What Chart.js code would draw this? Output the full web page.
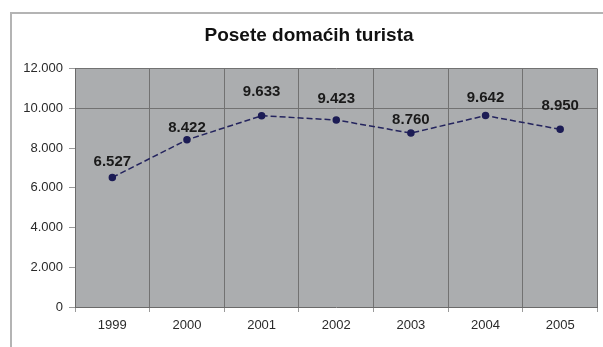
<!DOCTYPE html>
<html>
<head>
<meta charset="utf-8">
<script src="https://cdn.jsdelivr.net/npm/chart.js@4/dist/chart.umd.min.js"></script>
<style>
  html, body { margin: 0; padding: 0; background: #ffffff; }
  #wrap { position: relative; width: 603px; height: 347px; overflow: hidden; }
  #frame { position: absolute; left: 10px; top: 12px; width: 600px; height: 345px; border: 2px solid #b4b4b4; box-sizing: border-box; }
  #c { position: absolute; left: 0; top: 0; }
</style>
</head>
<body>
<div id="wrap">
  <div id="frame"></div>
  <canvas id="c" width="603" height="347"></canvas>
</div>
<script>
// ---- data ----
const chartTitle = 'Posete domaćih turista';
const years = ['1999', '2000', '2001', '2002', '2003', '2004', '2005'];
const visits = [6527, 8422, 9633, 9423, 8760, 9642, 8950];
const yMin = 0;
const yMax = 12000;
const yStep = 2000;
// ---------------------------------------

// label offsets above each point (style only)
const labelLift = [16, 12, 24, 21, 13, 18, 23];

function fmt(v) {
  return String(Math.round(v)).replace(/\B(?=(\d{3})+(?!\d))/g, '.');
}

const plotBg = {
  id: 'plotBg',
  beforeDraw(chart) {
    const a = chart.chartArea, ctx = chart.ctx;
    ctx.save();
    ctx.fillStyle = '#abadaf';
    ctx.fillRect(a.left, a.top, a.right - a.left, a.bottom - a.top);
    ctx.restore();
  }
};

const pointLabels = {
  id: 'pointLabels',
  afterDatasetsDraw(chart) {
    const ctx = chart.ctx;
    const meta = chart.getDatasetMeta(0);
    const data = chart.data.datasets[0].data;
    ctx.save();
    ctx.font = 'bold 15px "Liberation Sans", Arial, sans-serif';
    ctx.fillStyle = '#1a1a1a';
    ctx.textAlign = 'center';
    ctx.textBaseline = 'middle';
    meta.data.forEach((pt, i) => {
      ctx.fillText(fmt(data[i]), pt.x, pt.y - (labelLift[i] || 18));
    });
    ctx.restore();
  }
};

new Chart(document.getElementById('c'), {
  type: 'line',
  data: {
    labels: years,
    datasets: [{
      data: visits,
      borderColor: '#24245e',
      borderWidth: 1.5,
      borderDash: [6, 3],
      pointRadius: 3,
      pointBackgroundColor: '#1c1c55',
      pointBorderColor: '#1c1c55',
      tension: 0,
      fill: false
    }]
  },
  options: {
    responsive: false,
    animation: false,
    layout: { padding: { left: 18, right: 3, top: 0, bottom: 0 } },
    plugins: {
      legend: { display: false },
      tooltip: { enabled: false },
      title: {
        display: true,
        text: chartTitle,
        color: '#111111',
        font: { family: '"Liberation Sans", Arial, sans-serif', size: 19, weight: 'bold', lineHeight: 1.2 },
        padding: { top: 24, bottom: 22 }
      }
    },
    scales: {
      x: {
        offset: true,
        grid: {
          offset: true,
          color: '#727272',
          lineWidth: 1,
          tickLength: 5,
          tickColor: '#9a9a9a',
          drawTicks: true
        },
        border: { display: true, color: '#6a6a6a', width: 1 },
        ticks: {
          color: '#2a2a2a',
          padding: 6,
          maxRotation: 0,
          font: { family: '"Liberation Sans", Arial, sans-serif', size: 13 }
        },
        afterFit(scale) { scale.height = 40; }
      },
      y: {
        min: yMin,
        max: yMax,
        grid: {
          color: (ctx) => (ctx.tick && (ctx.tick.value === 10000 || ctx.tick.value === 12000)) ? '#727272' : 'rgba(0,0,0,0)',
          lineWidth: 1,
          tickLength: 6,
          tickColor: '#9a9a9a',
          drawTicks: true
        },
        border: { display: true, color: '#6a6a6a', width: 1 },
        ticks: {
          stepSize: yStep,
          color: '#2a2a2a',
          padding: 6,
          font: { family: '"Liberation Sans", Arial, sans-serif', size: 13 },
          callback: (v) => fmt(v)
        },
        afterFit(scale) { scale.width = 57; }
      }
    }
  },
  plugins: [plotBg, pointLabels]
});
</script>
</body>
</html>
